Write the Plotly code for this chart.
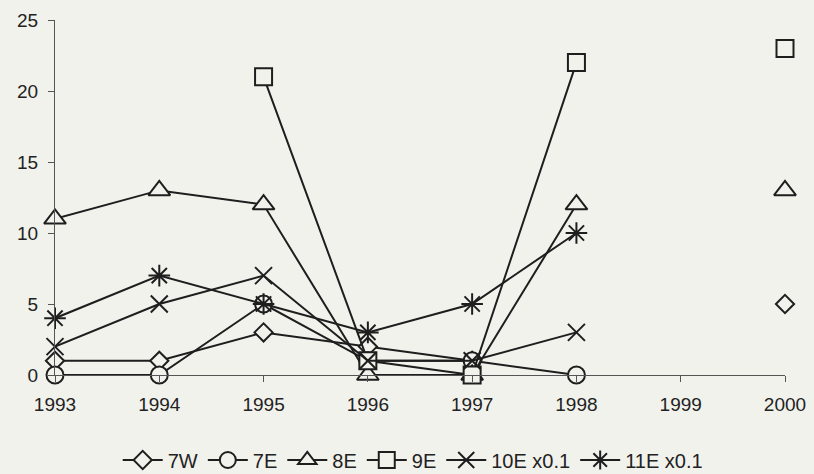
import plotly.graph_objects as go

years = [1993, 1994, 1995, 1996, 1997, 1998, 1999, 2000]
s_7W = [1, 1, 3, 2, 1, None, None, 5]
s_7E = [0, 0, 5, 1, 1, 0, None, None]
s_8E = [11, 13, 12, 0, 0, 12, None, 13]
s_9E = [None, None, 21, 1, 0, 22, None, 23]
s_10E = [2, 5, 7, 1, 1, 3, None, None]
s_11E = [4, 7, 5, 3, 5, 10, None, None]

names = ["7W", "7E", "8E", "9E", "10E x0.1", "11E x0.1"]
series = [s_7W, s_7E, s_8E, s_9E, s_10E, s_11E]
symbols = ["diamond", "circle", "triangle-up", "square", "x-thin", "asterisk"]
sizes = [14, 17, 19, 17, 17, 18]

BG = "#f2f2ed"
INK = "#1e1e1e"

fig = go.Figure()
for n, s, sym, sz in zip(names, series, symbols, sizes):
    fig.add_trace(go.Scatter(
        x=years, y=s, name=n, mode="lines+markers",
        connectgaps=False, cliponaxis=False,
        line=dict(color=INK, width=2),
        marker=dict(symbol=sym, size=sz, color=BG,
                    line=dict(color=INK, width=2)),
    ))

fig.update_layout(
    width=814, height=474,
    paper_bgcolor=BG, plot_bgcolor=BG,
    margin=dict(l=55, r=29, t=20, b=99, autoexpand=False),
    font=dict(family="Liberation Sans, Arial, sans-serif", size=19, color="#222"),
    showlegend=True,
    legend=dict(orientation="h", x=0.49, xanchor="center",
                yref="container", y=14 / 474, yanchor="middle",
                font=dict(size=20), bgcolor="rgba(0,0,0,0)", itemwidth=40,
                tracegroupgap=0),
)
fig.update_xaxes(
    range=[1993, 2000], tickmode="array", tickvals=years,
    ticktext=[str(y) for y in years],
    showgrid=False, zeroline=False, showline=True, linecolor="#555", linewidth=1,
    ticks="outside", ticklen=6, tickcolor="#555", tickwidth=1,
    ticklabelstandoff=6,
)
fig.update_yaxes(
    range=[0, 25], tickvals=[0, 5, 10, 15, 20, 25],
    showgrid=False, zeroline=False, showline=True, linecolor="#555", linewidth=1,
    ticks="outside", ticklen=6, tickcolor="#555", tickwidth=1,
    ticklabelstandoff=6,
)

fig.write_html("out.html")
